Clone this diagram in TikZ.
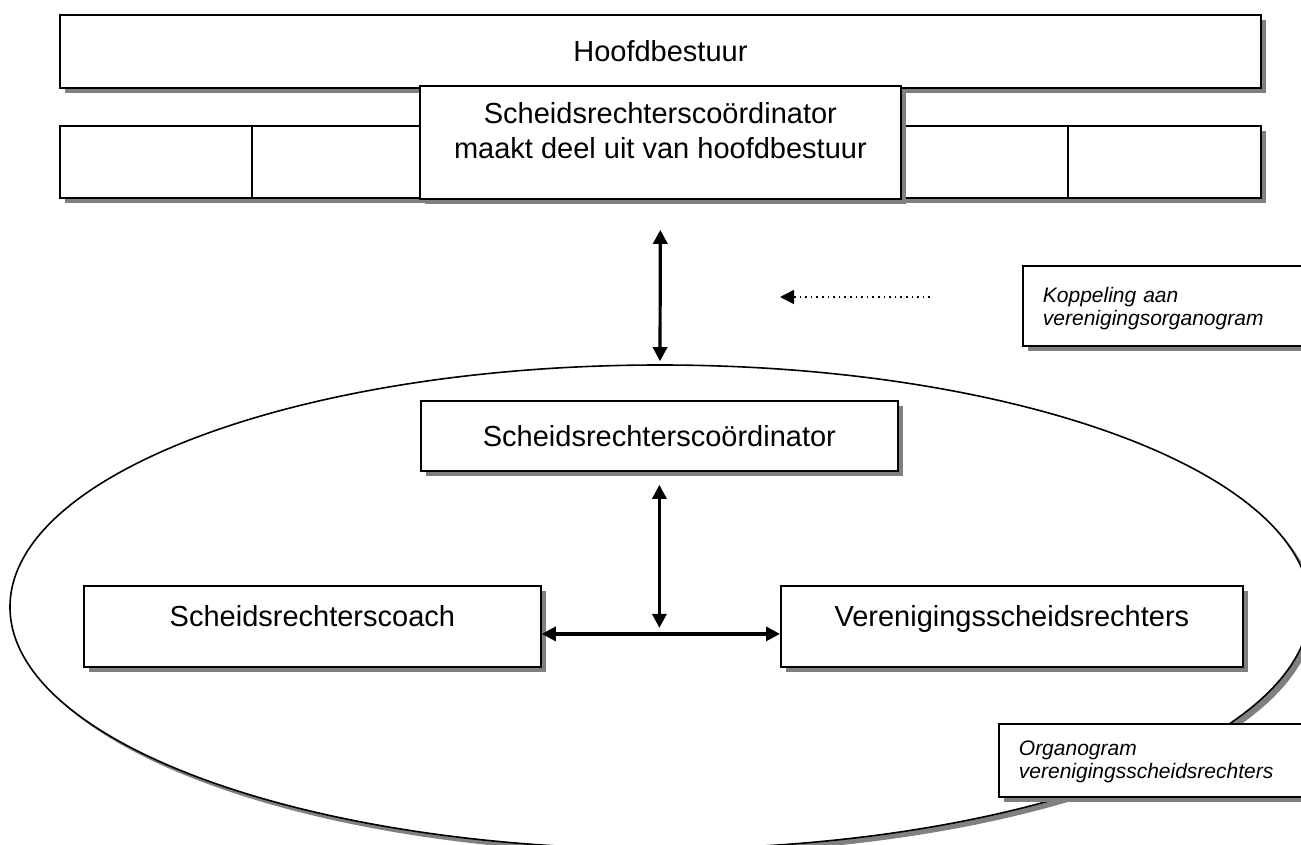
\documentclass[tikz,border=0pt]{standalone}
\usepackage{fontspec}
\setmainfont{Liberation Sans}
\usetikzlibrary{
  arrows.meta,      % Triangle-pijlpunten
  calc,             % coordinaatberekening
  positioning,      % relatieve plaatsing
  shapes.geometric, % ellips
  shadows           % schaduw achter de kaders
}

\begin{document}
\begin{tikzpicture}[x=0.5pt, y=-0.5pt, >={Triangle[length=7pt, width=7pt]}]
  % Stijlen: kaders met schaduw, notities cursief, pijlen
  \tikzset{
    schaduw/.style={drop shadow={shadow xshift=2.5pt, shadow yshift=-2.5pt, fill=black!50, opacity=1}},
    kader/.style={draw=black, line width=0.9pt, fill=white, schaduw, inner sep=0pt,
      anchor=north west, font=\fontsize{14.5}{17.5}\selectfont},
    regel/.style={text height=11pt, text depth=11pt},
    notitie/.style={kader, align=left, inner xsep=10pt, text height=9pt, text depth=13.5pt,
      font=\itshape\fontsize{10.5}{11.5}\selectfont},
    verbinding/.style={<->, line width=1.6pt},
    stippelpijl/.style={->, dotted, line width=0.8pt}
  }

  \useasboundingbox (0,0) rectangle (1301,845);

  % =======================
  % Hoofdbestuur met onderliggende vakken
  % =======================
  \node[kader, minimum width=600.5pt, minimum height=36.5pt, text height=10.5pt, text depth=0pt]
    (hoofdbestuur) at (59,14) {Hoofdbestuur};

  \node[kader, minimum width=96pt, minimum height=36pt] (vak1) at (59,125) {};
  \node[kader, minimum width=204.5pt, minimum height=36pt] (vak2) at (251,125) {};
  \node[kader, minimum width=203.5pt, minimum height=36pt] (vak3) at (660,125) {};
  \node[kader, minimum width=96.5pt, minimum height=36pt] (vak4) at (1067,125) {};

  % coördinator in het hoofdbestuur
  \node[kader, align=center, minimum width=240.5pt, minimum height=56.5pt,
    text height=28pt, text depth=11.5pt]
    (coordTop) at (419,85) {Scheidsrechterscoördinator\\maakt deel uit van hoofdbestuur};

  % =======================
  % Organogram verenigingsscheidsrechters
  % =======================
  \node[ellipse, draw=black, line width=0.8pt, fill=white, schaduw, inner sep=0pt,
    minimum width=650pt, minimum height=242pt] (ellips) at (660,607) {};

  \node[kader, minimum width=238.5pt, minimum height=35pt, text height=11pt, text depth=0pt]
    (coordIn) at (420,400) {Scheidsrechterscoördinator};
  \node[kader, regel, minimum width=228.5pt, minimum height=40.5pt]
    (coach) at (83,585) {Scheidsrechterscoach};
  \node[kader, regel, minimum width=231pt, minimum height=40.5pt]
    (vsr) at (780,585) {Verenigingsscheidsrechters};

  % notities rechts
  \node[notitie, text width=140pt, minimum width=160pt, minimum height=40pt,
    text height=9.5pt, text depth=13pt]
    (koppeling) at (1022,265) {Koppeling aan\\verenigingsorganogram};
  \node[notitie, text width=145pt, minimum width=165pt, minimum height=36.5pt]
    (organogram) at (998,723) {Organogram\\verenigingsscheidsrechters};

  % =======================
  % Verbindingen
  % =======================
  \draw[verbinding, shorten <=15pt, shorten >=1.5pt] (coordTop.south) -- (ellips.north);

  \coordinate (stippelstart) at (930,297);
  \coordinate (stippeleind) at (780,297);
  \draw[stippelpijl] (stippelstart) -- (stippeleind);

  \coordinate[yshift=-3.75pt] (kruis) at ($(coach.east)!0.5!(vsr.west)$);
  \draw[verbinding] ([yshift=-3.75pt]coach.east) -- ([yshift=-3.75pt]vsr.west);
  \draw[verbinding, shorten <=6.5pt, shorten >=3pt] (coordIn.south) -- (coordIn.south |- kruis);

\end{tikzpicture}
\end{document}
